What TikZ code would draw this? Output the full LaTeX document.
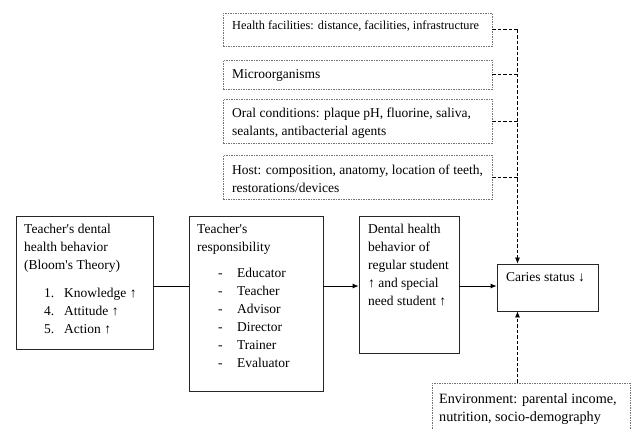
\documentclass[tikz,border=0pt]{standalone}
\usepackage{fontspec}
\setmainfont{Liberation Serif}[Ligatures=TeXOff]
\usetikzlibrary{arrows.meta}
\tikzset{
    solidbox/.style={draw=black!85,line width=0.8pt,inner sep=0pt},
    dotbox/.style={draw=black!55,line width=0.7pt,dash pattern=on 1.5pt off 1pt,inner sep=0pt},
    boxtext/.style={anchor=base west,inner sep=0pt,align=left,font=\fontsize{13.5}{18}\selectfont},
    link/.style={line width=0.7pt,dash pattern=on 3.5pt off 2pt},
    flow/.style={line width=0.8pt,-{Latex[length=6pt,width=5pt]}},
}
\begin{document}
\begin{tikzpicture}[x=1pt,y=-1pt]
        \useasboundingbox (0,0) rectangle (634,429);
        %% risk factors
        \node[dotbox,minimum width=269pt,minimum height=33pt] (health) at (357.5,29.5) {};
        \node[dotbox,minimum width=269pt,minimum height=29pt] (micro) at (357.5,74.5) {};
        \node[dotbox,minimum width=269pt,minimum height=44pt] (oral) at (357.5,121) {};
        \node[dotbox,minimum width=269pt,minimum height=44pt] (host) at (357.5,177) {};
        \node[boxtext,font=\fontsize{12.3}{16}\selectfont] (healthtxt) at (232,29) {Health facilities: distance, facilities, infrastructure};
        \node[boxtext] (microtxt) at (232,78) {Microorganisms};
        %% base of a two-line text is its last line
        \node[boxtext] (oraltxt) at (232,135) {Oral conditions: plaque pH, fluorine, saliva,\\sealants, antibacterial agents};
        \node[boxtext] (hosttxt) at (232,192) {Host: composition, anatomy, location of teeth,\\restorations/devices};
        %% main chain
        \node[solidbox,minimum width=137pt,minimum height=133pt] (behav) at (84.5,282.5) {};
        \node[solidbox,minimum width=134pt,minimum height=175pt] (resp) at (256,303.5) {};
        \node[solidbox,minimum width=100pt,minimum height=137pt] (student) at (409,284.5) {};
        \node[solidbox,minimum width=101pt,minimum height=47pt] (caries) at (547.5,287.5) {};
        \node[boxtext] (behavtxt) at (24,333) {Teacher\textquotesingle s dental\\health behavior\\(Bloom\textquotesingle s Theory)\\[10pt]
            \hspace*{20pt}\makebox[20pt][l]{1.}Knowledge ↑\\
            \hspace*{20pt}\makebox[20pt][l]{4.}Attitude ↑\\
            \hspace*{20pt}\makebox[20pt][l]{5.}Action ↑};
        \node[boxtext] (resptxt) at (197,367) {Teacher\textquotesingle s\\responsibility\\[8pt]
            \hspace*{21pt}\makebox[19pt][l]{-}Educator\\
            \hspace*{21pt}\makebox[19pt][l]{-}Teacher\\
            \hspace*{21pt}\makebox[19pt][l]{-}Advisor\\
            \hspace*{21pt}\makebox[19pt][l]{-}Director\\
            \hspace*{21pt}\makebox[19pt][l]{-}Trainer\\
            \hspace*{21pt}\makebox[19pt][l]{-}Evaluator};
        \node[boxtext] (studenttxt) at (368,305) {Dental health\\behavior of\\regular student\\↑ and special\\need student ↑};
        \node[boxtext] (cariestxt) at (506,281) {Caries status ↓};
        %% environment
        \node[dotbox,minimum width=198pt,minimum height=60pt] (env) at (531,413) {};
        \node[boxtext,font=\fontsize{14.2}{17.5}\selectfont] (envtxt) at (439,421) {Environment: parental income,\\nutrition, socio-demography};
        %% connectors
        \coordinate (axis) at (0,286);
        \coordinate (bus) at (517.5,0);
        \draw[line width=0.8pt] (behav.east |- axis) -- (resp.west |- axis);
        \draw[flow] (resp.east |- axis) -- (student.west |- axis);
        \draw[flow] (student.east |- axis) -- (caries.west |- axis);
        \draw[link] (health.east) -- (health.east -| bus);
        \draw[link] (micro.east) -- (micro.east -| bus);
        \draw[link] (oral.east) -- (oral.east -| bus);
        \draw[link] (host.east) -- (host.east -| bus);
        \draw[link,-{Latex[length=6pt,width=5pt]}] (health.east -| bus) -- (caries.north -| bus);
        \draw[link,-{Latex[length=6pt,width=5pt]}] (env.north -| bus) -- (caries.south -| bus);
\end{tikzpicture}
\end{document}
